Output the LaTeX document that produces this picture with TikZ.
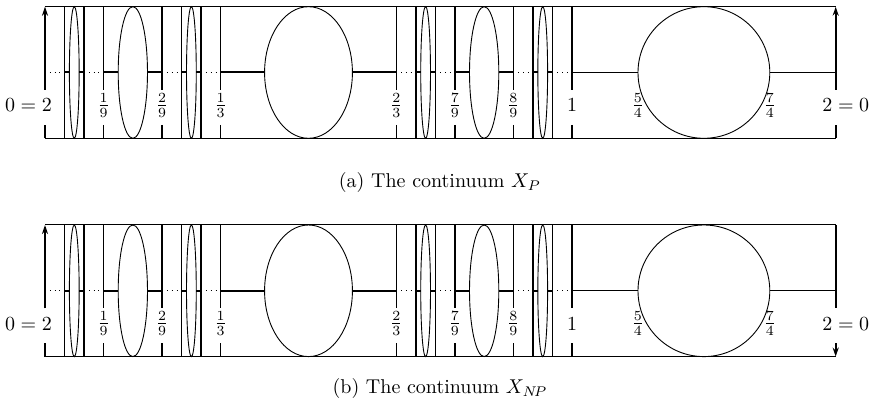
\documentclass[tikz,border=0pt]{standalone}
\usetikzlibrary{arrows.meta}
\begin{document}
\begin{tikzpicture}[x=0.5pt,y=-0.5pt,
  vline/.style={line width=0.8pt},
  seg/.style={line width=1pt},
  ell/.style={line width=0.45pt},
  dots/.style={line width=0.4pt,dotted},
  frame/.style={line width=0.5pt},
  thinline/.style={line width=0.5pt},
  tip/.style={-{Stealth[length=4.5pt,width=3pt]}},
  lab/.style={inner sep=0pt}]
\useasboundingbox (0,0) rectangle (875,406);
\foreach \sh/\pn in {0/a,218.3/b} {
\begin{scope}[shift={(0,\sh)}]
  % frame
  \draw[frame] (45,6.7) -- (835.7,6.7);
  \draw[frame] (45,138.3) -- (835.7,138.3);
  % left boundary
  \draw[vline] (45,138.3) -- (45,125);
  \draw[vline,tip] (45,90) -- (45,6.7);
  \node[lab] (L\pn) at (28.5,105.5) {$0=2$};
  \node[lab] (R\pn) at (845.8,105.5) {$2=0$};
  % cantor gaps with ellipses
  \foreach \a/\b in {0.333333/0.666667, 0.111111/0.222222, 0.777778/0.888889,
     0.037037/0.074074, 0.259259/0.296296, 0.703704/0.740741, 0.925926/0.962963} {
    \pgfmathsetmacro\xa{45+527*\a}
    \pgfmathsetmacro\xb{45+527*\b}
    \pgfmathsetmacro\r{(\xb-\xa)/4}
    \pgfmathsetmacro\xc{(\xa+\xb)/2}
    \draw[ell] (\xc,72.5) ellipse [x radius=\r, y radius=65.8];
    \draw[seg] (\xa,72.5) -- ++(\r,0);
    \draw[seg] (\xb,72.5) -- ++(-\r,0);
  }
  % full-height lines (level 3)
  \foreach \t in {0.037037,0.074074,0.259259,0.296296,0.703704,0.740741,0.925926,0.962963} {
    \pgfmathsetmacro\xt{45+527*\t}
    \draw[vline] (\xt,6.7) -- (\xt,138.3);
  }
  % labelled lines
  \foreach \t/\txt/\nm in {0.111111/{$\frac{1}{9}$}/a1, 0.222222/{$\frac{2}{9}$}/a2,
     0.333333/{$\frac{1}{3}$}/a3, 0.666667/{$\frac{2}{3}$}/a4,
     0.777778/{$\frac{7}{9}$}/a5, 0.888889/{$\frac{8}{9}$}/a6, 1/{$1$}/a7} {
    \pgfmathsetmacro\xt{45+527*\t}
    \draw[vline] (\xt,6.7) -- (\xt,90);
    \draw[vline] (\xt,125) -- (\xt,138.3);
    \node[lab] (\nm\pn) at (\xt,105.5) {\txt};
  }
  % dotted parts
  \foreach \a/\b in {0/0.037037, 0.074074/0.111111, 0.222222/0.259259, 0.296296/0.333333,
     0.666667/0.703704, 0.740741/0.777778, 0.888889/0.925926, 0.962963/1} {
    \pgfmathsetmacro\xa{45+527*\a}
    \pgfmathsetmacro\xb{45+527*\b}
    \draw[dots] (\xa,72.5) -- (\xb,72.5);
  }
  % right part [1,2]
  \draw[thinline] (572,72.5) -- (637.9,72.5);
  \draw[ell] (703.9,72.5) ellipse [x radius=65.9, y radius=65.8];
  \draw[thinline] (769.8,72.5) -- (835.7,72.5);
  \node[lab] (f5\pn) at (637.9,105.5) {$\frac{5}{4}$};
  \node[lab] (f7\pn) at (769.8,105.5) {$\frac{7}{4}$};
\end{scope}
}
% right boundaries
\draw[vline] (835.7,138.3) -- (835.7,125);
\draw[vline,tip] (835.7,90) -- (835.7,6.7);
\begin{scope}[shift={(0,218.3)}]
\draw[vline] (835.7,6.7) -- (835.7,90);
\draw[vline,tip] (835.7,125) -- (835.7,138.3);
\end{scope}
% captions
\node (capa) at (440,183) {(a) The continuum $X_P$};
\node (capb) at (440,389) {(b) The continuum $X_{N\!P}$};
\end{tikzpicture}
\end{document}
